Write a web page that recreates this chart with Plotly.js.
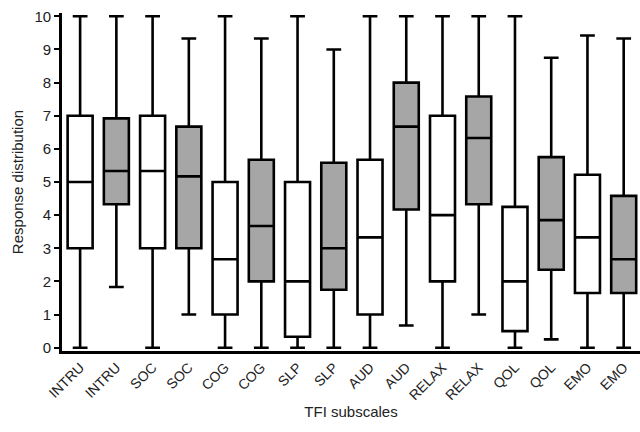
<!DOCTYPE html>
<html><head><meta charset="utf-8">
<script src="https://cdn.plot.ly/plotly-3.0.1.min.js"></script>
<style>html,body{margin:0;padding:0;background:#fff}#chart{width:640px;height:432px}</style>
</head><body><div id="chart"></div>
<script>
const labels = ["INTRU","INTRU","SOC","SOC","COG","COG","SLP","SLP","AUD","AUD","RELAX","RELAX","QOL","QOL","EMO","EMO"];
const groups = ["white","gray","white","gray","white","gray","white","gray","white","gray","white","gray","white","gray","white","gray"];
const minV = [0, 1.83, 0, 1, 0, 0, 0, 0, 0, 0.67, 0, 1, 0, 0.25, 0, 0];
const q1V  = [3, 4.33, 3, 3, 1, 2, 0.33, 1.75, 1, 4.17, 2, 4.33, 0.5, 2.35, 1.65, 1.65];
const medV = [5, 5.33, 5.33, 5.17, 2.67, 3.67, 2, 3, 3.33, 6.67, 4, 6.33, 2, 3.85, 3.33, 2.67];
const q3V  = [7, 6.92, 7, 6.67, 5, 5.67, 5, 5.58, 5.67, 8, 7, 7.58, 4.25, 5.75, 5.22, 4.58];
const maxV = [10, 10, 10, 9.33, 10, 9.33, 10, 9, 10, 10, 10, 10, 10, 8.75, 9.42, 9.33];
const fills = {white: "#ffffff", gray: "#a6a6a6"};

const traces = labels.map((lab, i) => ({
  type: "box",
  x: [i + 1],
  q1: [q1V[i]], median: [medV[i]], q3: [q3V[i]],
  lowerfence: [minV[i]], upperfence: [maxV[i]],
  boxpoints: false,
  width: 0.69,
  whiskerwidth: 0.59,
  fillcolor: fills[groups[i]],
  line: {color: "#000000", width: 2.6},
  name: lab,
  showlegend: false,
  hoverinfo: "skip"
}));

const layout = {
  width: 640, height: 432,
  margin: {l: 62, r: 0, t: 13, b: 81},
  paper_bgcolor: "#fff", plot_bgcolor: "#fff",
  font: {family: "Liberation Sans, Arial, sans-serif", color: "#000"},
  xaxis: {
    range: [0.5, 16.45],
    tickvals: labels.map((_, i) => i + 1),
    ticktext: labels,
    tickangle: -45,
    ticks: "",
    tickfont: {size: 14, color: "#222"},
    showgrid: false, zeroline: false,
    showline: true, linecolor: "#000", linewidth: 2.8,
    title: {text: "TFI subscales", font: {size: 15, color: "#222"}, standoff: 5},
    automargin: false
  },
  yaxis: {
    range: [-0.1, 10.1],
    tickvals: [0,1,2,3,4,5,6,7,8,9,10],
    ticks: "outside", ticklen: 5, tickwidth: 2, tickcolor: "#000",
    tickfont: {size: 15, color: "#222"},
    showgrid: false, zeroline: false,
    showline: true, linecolor: "#000", linewidth: 2.8,
    title: {text: "Response distribution", font: {size: 15, color: "#222"}, standoff: 8},
    automargin: false
  }
};

Plotly.newPlot("chart", traces, layout, {staticPlot: true, displayModeBar: false});
</script></body></html>
